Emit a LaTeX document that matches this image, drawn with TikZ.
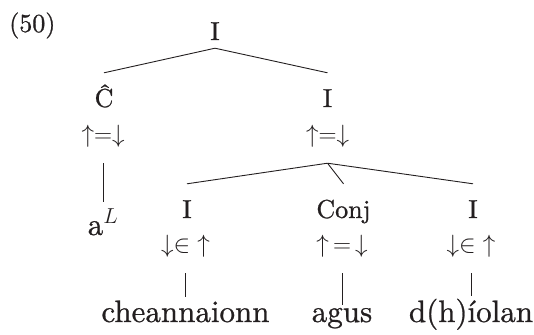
\documentclass[tikz,border=0pt]{standalone}
\usepackage{fix-cm}
\usepackage{fontspec}
\setmainfont{lmroman10-regular.otf}[FakeBold=0.8]
\usepackage{tikz}
\usepackage{xcolor}
\definecolor{ColInk}{RGB}{35,31,32}
\tikzstyle{CatLabel}=[anchor=base,inner sep=0pt,text height=34pt,text depth=8pt,
text=ColInk,font=\fontsize{26}{30}\selectfont]
\tikzstyle{EqLabel}=[anchor=base,inner sep=0pt,text height=19pt,text depth=21pt,
text=ColInk,font=\fontsize{25}{30}\selectfont]
\tikzstyle{WordLabel}=[anchor=base,inner sep=3pt,text=ColInk,font=\fontsize{31}{36}\selectfont]
\tikzstyle{EdgeTree}=[ColInk,line width=0.9pt]

\begin{document}
\begin{tikzpicture}[x=1pt,y=-1pt]
        \useasboundingbox(0,0)rectangle(534,334);
        \node[anchor=base west,inner sep=0pt,text=ColInk,font=\fontsize{26}{30}\selectfont](ex)at(9,32){(50)};
        % top
        \node[CatLabel](i0)at(215,40){I};
        % first level
        \node[CatLabel](c1)at(104,107){Ĉ};
        \node[EqLabel](c1eq)at(103,142){$\uparrow=\downarrow$};
        \node[CatLabel](i1)at(327.5,107){I};
        \node[EqLabel](i1eq)at(327.5,142){$\uparrow=\downarrow$};
        \node[WordLabel,inner ysep=7pt](al)at(103,235){a$^{L}$};
        % coordination
        \node[CatLabel](i2)at(187,218){I};
        \node[EqLabel](i2eq)at(185.5,252){$\downarrow\in\;\uparrow$};
        \node[CatLabel](cj)at(343.5,218){Conj};
        \node[EqLabel](cjeq)at(342,252){$\uparrow\,=\,\downarrow$};
        \node[CatLabel](i3)at(473,218){I};
        \node[EqLabel](i3eq)at(471,252){$\downarrow\in\;\uparrow$};
        \node[WordLabel](w1)at(185.5,322){cheannaionn};
        \node[WordLabel](w2)at(342,322){agus};
        \node[WordLabel](w3)at(471,322){d(h)íolan};
        \draw[EdgeTree](i0.south)--(c1.north);
        \draw[EdgeTree](i0.south)--(i1.north);
        \draw[EdgeTree](c1eq.south)--(al.north);
        \draw[EdgeTree](i1eq.south)--(i2.north);
        \draw[EdgeTree](i1eq.south)--(cj.north);
        \draw[EdgeTree](i1eq.south)--(i3.north);
        \draw[EdgeTree](i2eq.south)--(w1.north);
        \draw[EdgeTree](cjeq.south)--(w2.north);
        \draw[EdgeTree](i3eq.south)--(w3.north);
    \end{tikzpicture}
\end{document}
